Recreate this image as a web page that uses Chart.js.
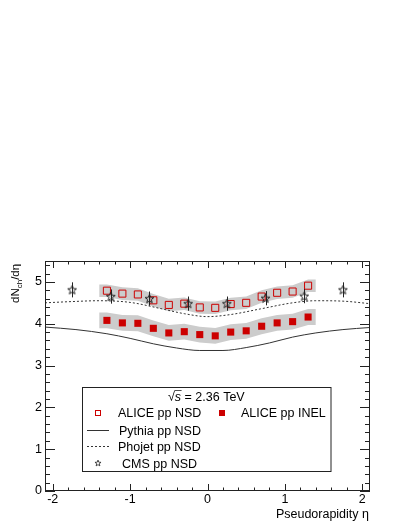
<!DOCTYPE html>
<html><head><meta charset="utf-8">
<script src="https://cdn.jsdelivr.net/npm/chart.js@4.4.1/dist/chart.umd.min.js"></script>
<style>html,body{margin:0;padding:0;background:#fff}canvas{display:block}</style>
</head><body>
<canvas id="c" width="407" height="527"></canvas>
<script>
// ---- data ----
const etaALICE   = [-1.3,-1.1,-0.9,-0.7,-0.5,-0.3,-0.1,0.1,0.3,0.5,0.7,0.9,1.1,1.3];
const aliceNSD   = [4.79,4.72,4.70,4.56,4.45,4.48,4.39,4.38,4.47,4.50,4.65,4.74,4.77,4.91];
const aliceINEL  = [4.08,4.02,4.01,3.89,3.78,3.81,3.74,3.71,3.80,3.83,3.94,4.02,4.05,4.16];
const aliceNSDSys  = [0.15,0.15,0.15,0.15,0.15,0.15,0.15,0.15,0.15,0.15,0.15,0.15,0.15,0.15];
const aliceINELSys = [0.19,0.19,0.19,0.19,0.19,0.19,0.19,0.19,0.19,0.19,0.19,0.19,0.19,0.19];
const bandEdges  = [-1.4, 1.4];
const etaCMS     = [-1.75,-1.25,-0.75,-0.25,0.25,0.75,1.25,1.75];
const cmsNSD     = [4.81,4.65,4.60,4.48,4.48,4.61,4.66,4.81];
const cmsErr     = [0.18,0.17,0.17,0.17,0.17,0.17,0.17,0.18];
const etaPythia  = [-2.1,-1.7,-1.3,-1.0,-0.7,-0.4,-0.1,0.2,0.5,0.8,1.1,1.4,1.75,2.1];
const pythiaNSD  = [3.92,3.86,3.76,3.65,3.52,3.42,3.36,3.36,3.43,3.54,3.68,3.78,3.86,3.91];
const etaPhojet  = [-2.1,-1.75,-1.4,-1.0,-0.6,-0.3,0.0,0.3,0.7,1.1,1.4,1.75,2.1];
const phojetNSD  = [4.50,4.53,4.55,4.51,4.36,4.24,4.17,4.22,4.36,4.50,4.55,4.54,4.48];
const xTickVals  = [-2,-1,0,1,2];
const yTickVals  = [0,1,2,3,4,5];
const seriesNames = ['ALICE pp NSD','ALICE pp INEL','Pythia pp NSD','Phojet pp NSD','CMS pp NSD'];
const energyLabel = ' = 2.36 TeV';
const xTitle = 'Pseudorapidity \u03b7';

const FONT = '"Liberation Sans", Arial, Helvetica, sans-serif';
const RED = '#cc0000';
const DARK = '#222222';

function pts(xs, ys){ return xs.map((x,i)=>({x:x, y:ys[i]})); }
function band(vals, sys, sign){
  const arr = pts(etaALICE, vals.map((v,i)=>v + sign*sys[i]));
  arr.unshift({x:bandEdges[0], y:arr[0].y});
  arr.push({x:bandEdges[1], y:arr[arr.length-1].y});
  return arr;
}
function makeStar(size, color, lw){
  const c = document.createElement('canvas');
  c.width = size; c.height = size;
  const g = c.getContext('2d');
  const cx=size/2, cy=size/2+0.3, R=size/2-0.8, r=R*0.42;
  g.beginPath();
  for(let i=0;i<10;i++){
    const ang = -Math.PI/2 + i*Math.PI/5;
    const rr = i%2===0 ? R : r;
    const px = cx + rr*Math.cos(ang), py = cy + rr*Math.sin(ang);
    if(i===0) g.moveTo(px,py); else g.lineTo(px,py);
  }
  g.closePath();
  g.strokeStyle = color; g.lineWidth = lw; g.stroke();
  return c;
}
const starImg = makeStar(11, DARK, 1);
const starSmall = makeStar(8, DARK, 0.8);

const frameTicks = {
  id:'frameTicks',
  afterDatasetsDraw(chart){
    const {ctx, scales:{x,y}} = chart;
    ctx.save();
    ctx.strokeStyle = DARK; ctx.lineWidth = 1;
    etaCMS.forEach((e,i)=>{
      const px = Math.round(x.getPixelForValue(e))+0.5;
      ctx.beginPath();
      ctx.moveTo(px, y.getPixelForValue(cmsNSD[i]+cmsErr[i]));
      ctx.lineTo(px, y.getPixelForValue(cmsNSD[i]-cmsErr[i]));
      ctx.stroke();
    });
    ctx.restore();
  },
  afterDraw(chart){
    const {ctx, chartArea:a, scales:{x,y}} = chart;
    ctx.save();
    ctx.strokeStyle = DARK; ctx.lineWidth = 1;
    ctx.strokeRect(a.left+0.5, a.top+0.5, a.right-a.left-1, a.bottom-a.top-1);
    ctx.beginPath();
    for(let k=-10;k<=10;k++){
      const v=k/5, px=Math.round(x.getPixelForValue(v))+0.5;
      const L = (k%5===0)?7:3.5;
      ctx.moveTo(px,a.bottom); ctx.lineTo(px,a.bottom-L);
      ctx.moveTo(px,a.top); ctx.lineTo(px,a.top+L);
    }
    for(let k=0;k<=27;k++){
      const v=k/5, py=Math.round(y.getPixelForValue(v))+0.5;
      const L = (k%5===0)?10:5;
      ctx.moveTo(a.left,py); ctx.lineTo(a.left+L,py);
      ctx.moveTo(a.right,py); ctx.lineTo(a.right-L,py);
    }
    ctx.stroke();

    // y title with subscript
    ctx.fillStyle = '#000';
    ctx.save();
    ctx.translate(18.5, 303);
    ctx.rotate(-Math.PI/2);
    ctx.textBaseline = 'alphabetic'; ctx.textAlign='left';
    let cx = 0;
    ctx.font = '11.5px ' + FONT; ctx.fillText('dN', cx, 0); cx += ctx.measureText('dN').width;
    ctx.font = '8px ' + FONT; ctx.fillText('ch', cx, 3); cx += ctx.measureText('ch').width;
    ctx.font = '11.5px ' + FONT; ctx.fillText('/d\u03b7', cx, 0);
    ctx.restore();

    // x title
    ctx.font = '12.5px ' + FONT; ctx.textAlign='right'; ctx.textBaseline='alphabetic';
    ctx.fillText(xTitle, a.right-1, 518);

    // legend box
    const bx=82.5, by=387.5, bw=248.5, bh=84;
    ctx.fillStyle='#fff'; ctx.fillRect(bx,by,bw,bh);
    ctx.strokeStyle=DARK; ctx.strokeRect(bx,by,bw,bh);
    ctx.fillStyle='#000'; ctx.textAlign='left';
    let tx = 168, ty = 401;
    ctx.font = '12.5px ' + FONT;
    ctx.fillText('\u221a', tx, ty); tx += ctx.measureText('\u221a').width;
    ctx.font = 'italic 12.5px ' + FONT;
    const sw = ctx.measureText('s').width;
    ctx.fillText('s', tx, ty);
    ctx.beginPath(); ctx.moveTo(tx-0.5, ty-10.5); ctx.lineTo(tx+sw+0.5, ty-10.5); ctx.lineWidth=0.8; ctx.stroke(); ctx.lineWidth=1;
    tx += sw;
    ctx.font = '12.5px ' + FONT;
    ctx.fillText(energyLabel, tx, ty);
    ctx.fillText(seriesNames[0], 118, 417);
    ctx.fillText(seriesNames[1], 241, 417);
    ctx.fillText(seriesNames[2], 119, 434.5);
    ctx.fillText(seriesNames[3], 118, 450.5);
    ctx.fillText(seriesNames[4], 122, 467.5);
    ctx.strokeStyle = RED; ctx.lineWidth=1;
    ctx.strokeRect(95.5, 410.5, 5, 5);
    ctx.fillStyle = RED; ctx.fillRect(219, 410, 6, 6);
    ctx.strokeStyle = '#333';
    ctx.beginPath(); ctx.moveTo(87, 430.5); ctx.lineTo(109, 430.5); ctx.stroke();
    ctx.setLineDash([2,2]);
    ctx.beginPath(); ctx.moveTo(87, 446.5); ctx.lineTo(109, 446.5); ctx.stroke();
    ctx.setLineDash([]);
    ctx.drawImage(starSmall, 94, 459);
    ctx.restore();
  }
};

new Chart(document.getElementById('c'), {
  type:'scatter',
  data:{ datasets:[
    {label:'NSD sys up', type:'line', data:band(aliceNSD, aliceNSDSys, 1), fill:'+1', backgroundColor:'#cccccc', borderWidth:0, pointRadius:0, order:10},
    {label:'NSD sys down', type:'line', data:band(aliceNSD, aliceNSDSys, -1), fill:false, borderWidth:0, pointRadius:0, order:10},
    {label:'INEL sys up', type:'line', data:band(aliceINEL, aliceINELSys, 1), fill:'+1', backgroundColor:'#cccccc', borderWidth:0, pointRadius:0, order:10},
    {label:'INEL sys down', type:'line', data:band(aliceINEL, aliceINELSys, -1), fill:false, borderWidth:0, pointRadius:0, order:10},
    {label:seriesNames[2], type:'line', data:pts(etaPythia, pythiaNSD), borderColor:'#333', borderWidth:1, pointRadius:0, fill:false, cubicInterpolationMode:'monotone', order:5},
    {label:seriesNames[3], type:'line', data:pts(etaPhojet, phojetNSD), borderColor:'#333', borderWidth:1, borderDash:[2,2], pointRadius:0, fill:false, cubicInterpolationMode:'monotone', order:5},
    {label:seriesNames[0], data:pts(etaALICE, aliceNSD), pointStyle:'rect', pointRadius:5, pointBorderColor:RED, pointBackgroundColor:'rgba(0,0,0,0)', pointBorderWidth:1, order:2},
    {label:seriesNames[1], data:pts(etaALICE, aliceINEL), pointStyle:'rect', pointRadius:5, pointBorderColor:RED, pointBackgroundColor:RED, pointBorderWidth:0, order:2},
    {label:seriesNames[4], data:pts(etaCMS, cmsNSD), pointStyle:starImg, pointRadius:5, pointBorderWidth:0, order:1}
  ]},
  options:{
    responsive:false, animation:false,
    layout:{padding:{left:0, top:261, right:37, bottom:0}},
    plugins:{legend:{display:false}, tooltip:{enabled:false}},
    scales:{
      x:{type:'linear', min:-2.1, max:2.1,
         afterBuildTicks:(s)=>{ s.ticks = xTickVals.map(v=>({value:v})); },
         afterFit:(s)=>{ s.height = 36; },
         grid:{display:false, drawTicks:false, tickLength:0}, border:{display:false},
         ticks:{color:'#000', font:{family:FONT, size:12.5}, padding:1, maxRotation:0, autoSkip:false}},
      y:{type:'linear', min:0, max:5.5,
         afterBuildTicks:(s)=>{ s.ticks = yTickVals.map(v=>({value:v})); },
         afterFit:(s)=>{ s.width = 45; },
         grid:{display:false, drawTicks:false, tickLength:0}, border:{display:false},
         ticks:{color:'#000', font:{family:FONT, size:12.5}, padding:3, autoSkip:false}}
    }
  },
  plugins:[frameTicks]
});
</script>
</body></html>
